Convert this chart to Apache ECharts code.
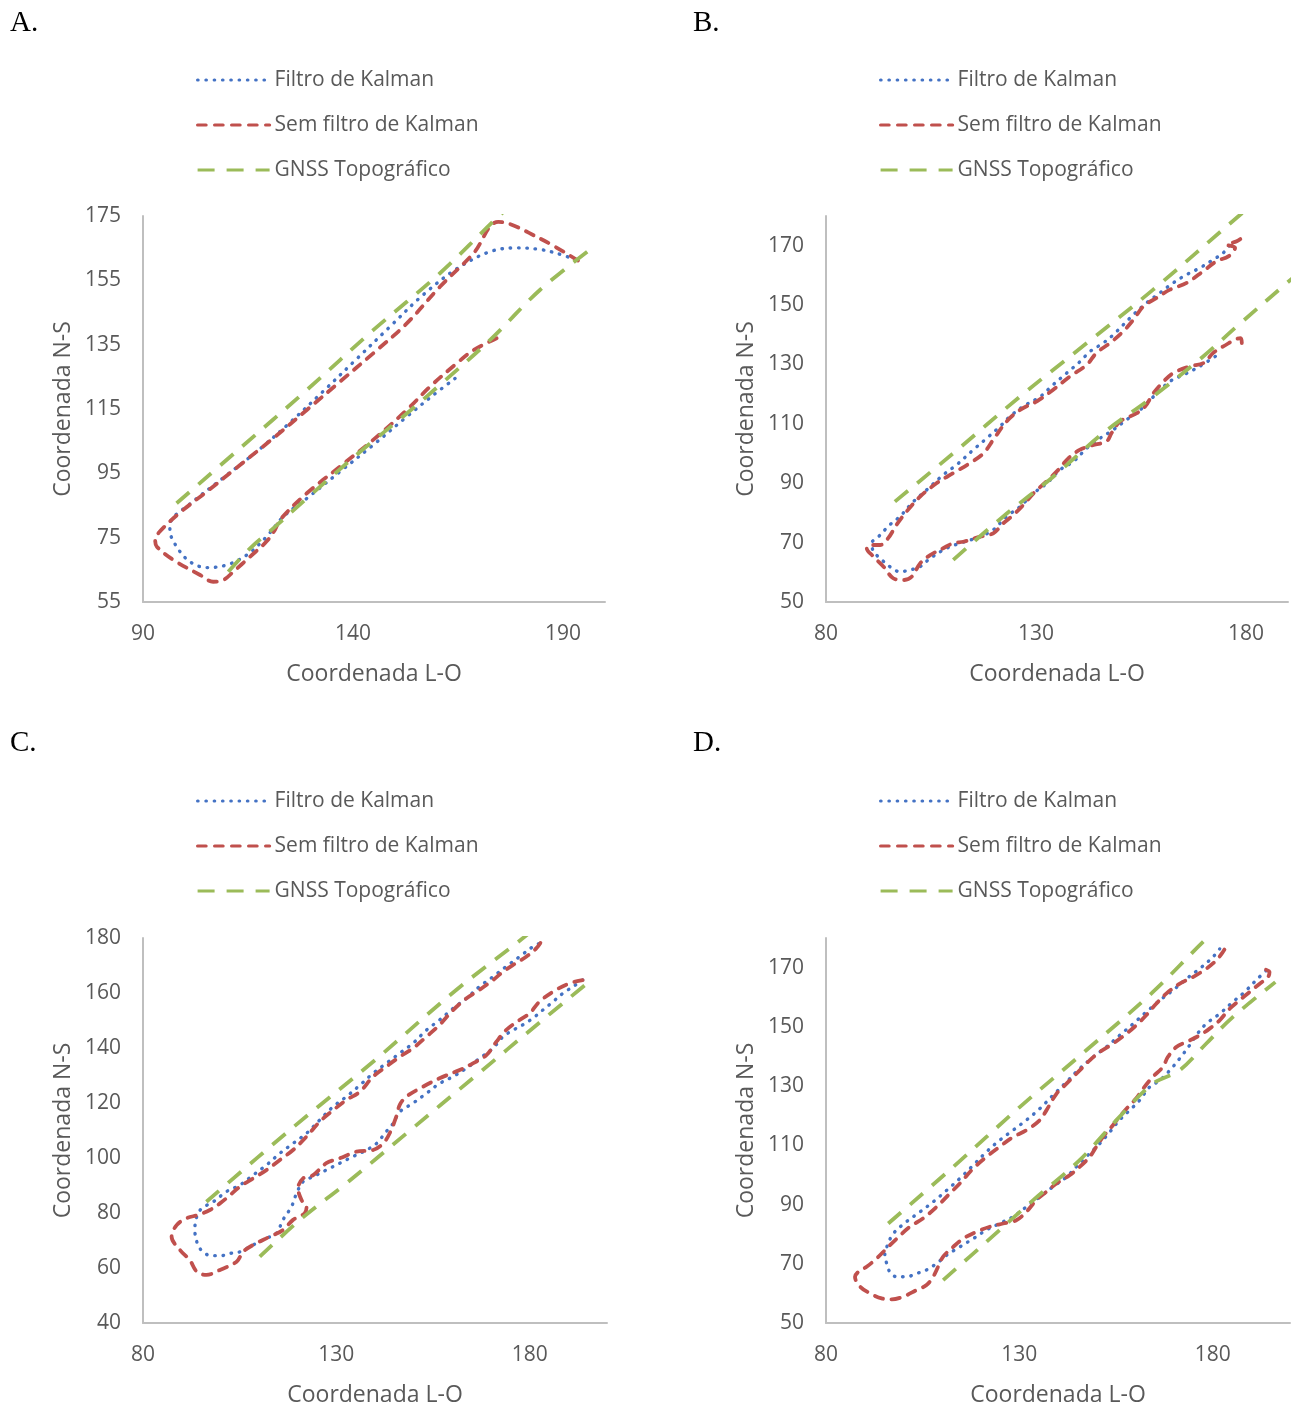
<!DOCTYPE html>
<html lang="pt">
<head>
<meta charset="UTF-8">
<title>Coordenadas L-O x N-S</title>
<script src="https://cdn.jsdelivr.net/npm/echarts@6.0.0/dist/echarts.min.js"></script>
<style>html,body{margin:0;padding:0;background:#fff;}</style>
</head>
<body>
<div id="main" style="width:1292px;height:1410px;"></div>
<script>
// ---- A ----
const xRangeA = [90, 200], xTicksA = [90, 140, 190];
const yRangeA = [55, 175], yTicksA = [55, 75, 95, 115, 135, 155, 175];
const kalmanA = [[164.3,124.5],[159.1,119.3],[152.8,112.6],[144.8,103.8],[136.9,95.5],[129.0,87.2],[123.4,81.5],[119.4,75.3],[114.7,69.6],[109.9,66.5],[105.2,65.7],[101.2,67.5],[98.0,72.2],[96.4,77.4],[96.6,80.0],[101.2,85.5],[109.1,93.6],[117.1,101.8],[125.0,110.8],[132.9,120.5],[140.9,130.6],[148.8,140.6],[156.7,150.5],[164.7,158.6],[172.6,163.9],[179.0,165.1],[184.5,164.6],[188.5,163.4],[193.3,161.3]];
const semA = [[174.2,137.0],[168.7,133.3],[164.7,129.2],[158.3,121.9],[152.8,114.7],[144.8,105.4],[136.9,97.1],[129.0,88.8],[122.6,80.5],[121.4,77.4],[119.4,73.8],[115.5,69.1],[111.5,64.4],[109.1,61.8],[106.7,61.3],[103.6,63.4],[97.2,68.1],[93.3,72.2],[92.9,74.3],[94.0,76.9],[98.8,82.8],[105.2,89.3],[113.1,97.6],[121.0,105.9],[129.0,114.7],[136.9,123.5],[144.8,132.3],[152.8,141.6],[160.7,153.0],[168.7,163.4],[174.6,173.2],[184.5,168.0],[194.0,160.8]];
const gnssA1 = [[98.0,85.7],[113.1,102.8],[129.0,120.9],[144.8,139.5],[160.7,157.2],[174.6,174.8],[185.0,187.0]];
const gnssA2 = [[110.3,64.4],[115.5,71.7],[121.0,77.9],[129.0,87.2],[141.7,101.7],[152.8,113.6],[160.7,122.5],[172.6,136.4],[184.5,152.0],[196.8,164.9]];

// ---- B ----
const xRangeB = [80, 190], xTicksB = [80, 130, 180];
const yRangeB = [50, 180], yTicksB = [50, 70, 90, 110, 130, 150, 170];
const kalmanB = [[172.7,132.7],[168.3,128.8],[165.1,126.5],[161.9,124.3],[158.0,119.2],[154.8,114.7],[151.6,111.4],[148.4,108.0],[145.3,105.2],[142.1,101.8],[138.9,97.3],[135.7,94.5],[132.6,90.0],[129.4,86.6],[126.2,82.1],[123.0,78.8],[119.8,74.3],[116.7,72.0],[111.9,69.8],[108.7,68.1],[104.8,64.7],[102.4,61.9],[100.0,60.8],[97.6,60.2],[95.2,61.9],[92.9,64.7],[91.3,67.0],[90.9,69.8],[92.5,72.0],[95.2,76.0],[97.6,78.8],[100.8,83.8],[104.0,87.8],[107.9,92.8],[111.1,96.2],[115.1,101.3],[118.3,105.2],[121.4,109.1],[123.8,112.5],[127.0,115.9],[131.0,119.2],[134.1,123.2],[137.3,127.1],[140.5,131.0],[142.9,134.4],[146.0,137.2],[148.4,140.0],[150.8,143.4],[153.2,146.8],[156.3,150.7],[159.5,154.1],[162.7,157.5],[165.9,160.3],[169.0,162.5],[172.2,165.3],[174.6,167.6],[176.2,170.4]];
const semB = [[179.0,137.2],[178.7,138.9],[174.6,136.1],[172.2,133.9],[169.9,130.5],[166.7,129.4],[162.7,127.1],[160.4,124.3],[158.0,120.4],[156.0,115.9],[154.0,113.6],[150.0,110.8],[148.0,106.9],[146.8,104.1],[143.7,102.9],[140.5,101.3],[137.7,98.4],[135.3,94.5],[132.5,90.6],[129.4,86.6],[127.0,82.7],[124.6,79.3],[122.2,76.5],[119.9,73.2],[116.7,72.0],[112.7,70.3],[110.3,69.8],[107.9,68.1],[104.8,65.8],[102.4,63.0],[100.4,58.5],[98.4,57.4],[96.0,58.0],[93.7,61.9],[91.3,65.3],[89.7,68.1],[90.5,69.2],[92.9,69.2],[94.8,71.5],[96.8,76.0],[99.2,80.5],[102.4,85.5],[106.3,90.0],[110.3,93.4],[114.3,96.8],[117.5,100.1],[119.8,104.6],[123.0,110.8],[126.2,114.7],[130.2,117.6],[134.1,121.5],[138.1,126.0],[142.1,129.9],[144.4,133.9],[147.6,137.2],[150.8,141.2],[153.2,145.1],[155.6,149.6],[158.7,152.4],[161.9,155.2],[165.9,157.5],[169.8,161.4],[173.0,164.8],[175.8,166.4],[177.4,169.3],[175.4,170.4],[177.8,171.5],[180.2,173.8]];
const gnssB1 = [[96.4,83.8],[110.3,100.1],[126.2,119.2],[142.1,137.2],[157.9,155.2],[178.2,179.9],[186.0,189.0]];
const gnssB2 = [[110.3,64.2],[122.2,78.8],[134.1,92.2],[146.0,106.9],[157.9,119.2],[169.8,132.7],[177.8,142.8],[189.7,157.4],[196.0,165.0]];

// ---- C ----
const xRangeC = [80, 200], xTicksC = [80, 130, 180];
const yRangeC = [40, 180], yTicksC = [40, 60, 80, 100, 120, 140, 160, 180];
const kalmanC = [[193.7,164.7],[191.2,162.3],[188.6,159.9],[186.0,156.8],[183.4,153.8],[180.8,150.8],[178.2,148.4],[175.7,146.5],[173.1,144.1],[170.5,139.9],[167.0,136.2],[163.6,132.6],[160.2,129.6],[156.7,127.1],[153.3,123.5],[149.8,119.9],[146.4,116.8],[144.7,112.6],[142.9,109.6],[140.4,105.3],[137.8,102.9],[134.3,100.5],[130.9,98.1],[127.4,95.6],[124.0,93.2],[121.4,91.4],[119.7,87.1],[118.4,82.3],[116.2,77.5],[114.5,72.6],[111.9,70.8],[108.5,68.4],[105.1,65.9],[102.5,65.3],[100.3,64.5],[97.7,64.5],[96.0,65.3],[94.7,67.1],[93.9,69.6],[93.4,73.8],[93.9,78.7],[95.2,81.7],[98.2,84.1],[101.6,87.8],[105.1,90.2],[108.5,93.8],[111.9,97.4],[115.4,101.7],[118.8,105.3],[122.3,109.0],[125.7,113.8],[129.2,118.7],[132.6,122.3],[136.1,126.5],[139.5,130.8],[142.9,134.4],[146.4,138.1],[149.8,141.7],[153.3,146.5],[156.7,150.2],[160.2,154.4],[163.6,158.0],[167.0,162.3],[170.5,165.9],[173.9,169.6],[177.4,173.2],[180.8,176.8],[182.5,178.0]];
const semC = [[193.7,164.7],[190.3,163.5],[186.8,161.1],[182.5,156.8],[180.0,152.6],[177.4,150.2],[173.9,146.5],[171.4,142.3],[168.8,137.4],[165.3,134.4],[161.9,132.0],[156.7,129.0],[152.4,125.9],[148.1,122.3],[146.4,119.3],[145.5,115.0],[143.8,109.0],[142.1,105.3],[139.5,102.9],[135.2,102.3],[130.9,99.9],[127.4,98.1],[124.0,93.8],[121.4,92.6],[120.1,89.0],[121.0,84.7],[122.3,82.3],[121.8,79.9],[118.8,77.5],[116.2,73.8],[112.8,71.4],[108.5,68.4],[105.9,65.9],[104.2,62.3],[99.9,59.3],[96.4,57.5],[93.9,58.7],[92.1,62.9],[89.6,66.5],[87.4,71.4],[88.7,75.6],[91.3,78.1],[94.3,79.3],[97.3,81.1],[99.9,83.5],[102.5,86.5],[105.1,89.6],[108.5,92.6],[111.9,95.6],[115.4,99.3],[118.8,102.9],[122.3,107.8],[125.7,113.2],[129.2,117.4],[132.6,121.1],[136.1,124.1],[139.5,129.6],[142.9,133.2],[146.4,136.8],[149.8,139.9],[153.3,144.1],[156.7,148.4],[160.2,153.8],[163.6,158.0],[167.0,161.1],[170.5,164.7],[173.1,167.7],[175.7,170.2],[179.1,173.2],[181.7,176.2],[183.0,178.7]];
const gnssC1 = [[96.4,84.1],[118.0,110.2],[139.5,135.0],[161.0,161.1],[178.2,179.9],[186.0,189.0]];
const gnssC2 = [[110.2,64.1],[121.0,78.0],[132.6,90.8],[148.1,108.9],[165.8,129.6],[182.5,149.2],[195.9,164.7]];

// ---- D ----
const xRangeD = [80, 200], xTicksD = [80, 130, 180];
const yRangeD = [50, 180], yTicksD = [50, 70, 90, 110, 130, 150, 170];
const kalmanD = [[193.8,169.0],[191.2,165.7],[188.2,161.7],[185.2,158.4],[181.8,154.4],[178.3,151.0],[175.7,147.1],[174.0,143.7],[171.4,139.2],[168.9,135.3],[166.3,131.9],[163.7,129.7],[161.1,125.2],[158.5,121.8],[155.9,118.5],[153.4,114.5],[150.8,110.6],[147.3,106.1],[144.7,102.7],[142.2,99.3],[138.7,96.0],[135.3,92.6],[131.8,89.2],[128.4,85.9],[124.9,83.6],[121.5,81.4],[118.1,78.5],[114.6,75.7],[111.2,72.9],[108.6,70.1],[106.0,67.9],[103.4,66.7],[100.8,65.6],[98.3,65.6],[96.5,67.3],[95.7,70.1],[95.2,72.9],[96.1,76.9],[97.4,80.2],[100.8,84.2],[104.3,87.5],[107.7,90.9],[111.2,94.8],[114.6,98.8],[118.1,103.3],[121.5,107.8],[124.9,111.7],[128.4,115.1],[131.8,118.5],[135.3,122.4],[138.7,126.9],[142.2,131.4],[145.6,135.9],[149.1,139.8],[152.5,143.2],[155.9,147.1],[159.4,151.0],[162.8,155.0],[166.3,158.9],[169.7,162.3],[173.2,166.2],[176.6,169.6],[180.0,173.5],[181.8,176.3]];
const semD = [[193.8,169.3],[194.7,168.5],[194.3,166.8],[192.1,164.5],[189.5,161.7],[186.9,158.9],[184.4,156.1],[181.8,152.2],[179.2,149.4],[176.6,147.1],[173.2,144.9],[170.6,143.2],[168.4,139.8],[167.1,136.4],[164.5,133.1],[162.0,129.1],[160.2,125.8],[158.1,122.9],[155.9,119.6],[154.2,116.8],[151.6,112.8],[149.9,109.5],[148.2,106.1],[145.6,102.7],[143.0,99.9],[139.6,97.1],[137.0,94.3],[134.4,91.5],[131.8,87.5],[129.2,84.7],[125.8,83.6],[122.4,82.5],[118.9,80.8],[115.5,78.5],[112.9,75.7],[110.3,72.4],[109.0,69.0],[107.7,65.6],[106.0,62.8],[103.4,61.1],[100.0,58.9],[97.0,58.0],[94.4,58.3],[91.4,60.0],[88.8,62.3],[87.5,65.6],[88.4,67.3],[90.5,69.0],[93.1,71.8],[95.7,75.2],[98.3,78.5],[101.7,82.5],[105.1,85.3],[108.6,89.2],[112.0,93.7],[114.6,97.1],[118.1,102.2],[121.5,106.1],[124.9,109.5],[128.4,112.8],[131.8,115.1],[135.3,118.5],[137.0,121.8],[139.6,127.4],[142.2,130.8],[145.6,135.3],[148.2,138.7],[150.8,141.5],[154.2,144.3],[157.7,147.7],[160.2,150.5],[162.8,153.9],[165.4,157.8],[168.0,161.2],[171.4,164.5],[174.9,166.8],[178.3,169.6],[180.9,172.4],[182.6,175.2],[183.9,178.0]];
const gnssD1 = [[96.1,83.6],[112.9,102.7],[130.1,122.9],[147.3,142.1],[164.5,161.7],[178.3,179.7],[186.0,188.7]];
const gnssD2 = [[110.3,64.5],[121.5,77.4],[133.6,91.5],[145.6,105.0],[155.9,119.6],[164.5,130.8],[171.4,135.3],[178.3,144.3],[185.2,153.3],[196.2,165.1]];

const names = ['Filtro de Kalman', 'Sem filtro de Kalman', 'GNSS Topográfico'];
const FONT = '"Open Sans", "Noto Sans", sans-serif';
const GREY = '#595959';

const panels = [
  { letter: 'A.', lx: 10, ly: 9, grid: { left: 143, top: 216, width: 462, height: 386 }, lg: { left: 196, top: 68 },
    xr: xRangeA, xt: xTicksA, yr: yRangeA, yt: yTicksA, k: kalmanA, s: semA, g1: gnssA1, g2: gnssA2 },
  { letter: 'B.', lx: 693, ly: 9, grid: { left: 826, top: 216, width: 462, height: 386 }, lg: { left: 879, top: 68 },
    xr: xRangeB, xt: xTicksB, yr: yRangeB, yt: yTicksB, k: kalmanB, s: semB, g1: gnssB1, g2: gnssB2 },
  { letter: 'C.', lx: 10, ly: 729, grid: { left: 143, top: 938, width: 464, height: 385 }, lg: { left: 196, top: 789 },
    xr: xRangeC, xt: xTicksC, yr: yRangeC, yt: yTicksC, k: kalmanC, s: semC, g1: gnssC1, g2: gnssC2 },
  { letter: 'D.', lx: 693, ly: 729, grid: { left: 826, top: 938, width: 464, height: 385 }, lg: { left: 879, top: 789 },
    xr: xRangeD, xt: xTicksD, yr: yRangeD, yt: yTicksD, k: kalmanD, s: semD, g1: gnssD1, g2: gnssD2 }
];

const styles = {
  'Filtro de Kalman': { color: '#4472C4', width: 3.4, type: [0.5, 7.8], cap: 'round' },
  'Sem filtro de Kalman': { color: '#C0504D', width: 3.8, type: [8.5, 8.5], cap: 'round' },
  'GNSS Topográfico': { color: '#9BBB59', width: 3.8, type: [17, 12], cap: 'butt' }
};

function axis(i, range, ticks, name, gap, margin) {
  return {
    type: 'value', gridIndex: i, min: range[0], max: range[1],
    name: name, nameLocation: 'middle', nameGap: gap,
    nameTextStyle: { color: GREY, fontSize: 23, fontFamily: FONT },
    axisLine: { show: true, onZero: false, lineStyle: { color: '#bfbfbf', width: 2 } },
    axisTick: { show: false },
    splitLine: { show: false },
    axisLabel: { color: GREY, fontSize: 21, fontFamily: FONT, margin: margin, customValues: ticks }
  };
}

function line(name, data, i) {
  const st = styles[name];
  return {
    name: name, type: 'line', data: data, xAxisIndex: i, yAxisIndex: i,
    symbol: 'none', smooth: 0.35, clip: true, silent: true,
    itemStyle: { color: st.color },
    lineStyle: { color: st.color, width: st.width, type: st.type, cap: st.cap, join: 'round' }
  };
}

const option = {
  animation: false,
  grid: [], xAxis: [], yAxis: [], legend: [], series: [], graphic: []
};

panels.forEach((p, i) => {
  option.grid.push(Object.assign({ containLabel: false }, p.grid));
  option.xAxis.push(axis(i, p.xr, p.xt, 'Coordenada L-O', 61, 22));
  option.yAxis.push(axis(i, p.yr, p.yt, 'Coordenada N-S', 68, 22));
  option.legend.push({
    orient: 'vertical', left: p.lg.left, top: p.lg.top, padding: 0, data: names,
    itemWidth: 72, itemHeight: 14, itemGap: 21, selectedMode: false,
    itemStyle: { opacity: 0 },
    lineStyle: { width: 3.2 },
    textStyle: { color: GREY, fontSize: 21, fontFamily: FONT, lineHeight: 24 }
  });
  option.series.push(line(names[0], p.k, i));
  option.series.push(line(names[1], p.s, i));
  option.series.push(line(names[2], p.g1, i));
  option.series.push(line(names[2], p.g2, i));
  option.graphic.push({
    type: 'text', left: p.lx, top: p.ly,
    style: { text: p.letter, font: '29px "Liberation Serif", "DejaVu Serif", serif', fill: '#000' }
  });
});

const chart = echarts.init(document.getElementById('main'), null, { renderer: 'canvas' });
chart.setOption(option);
</script>
</body>
</html>
